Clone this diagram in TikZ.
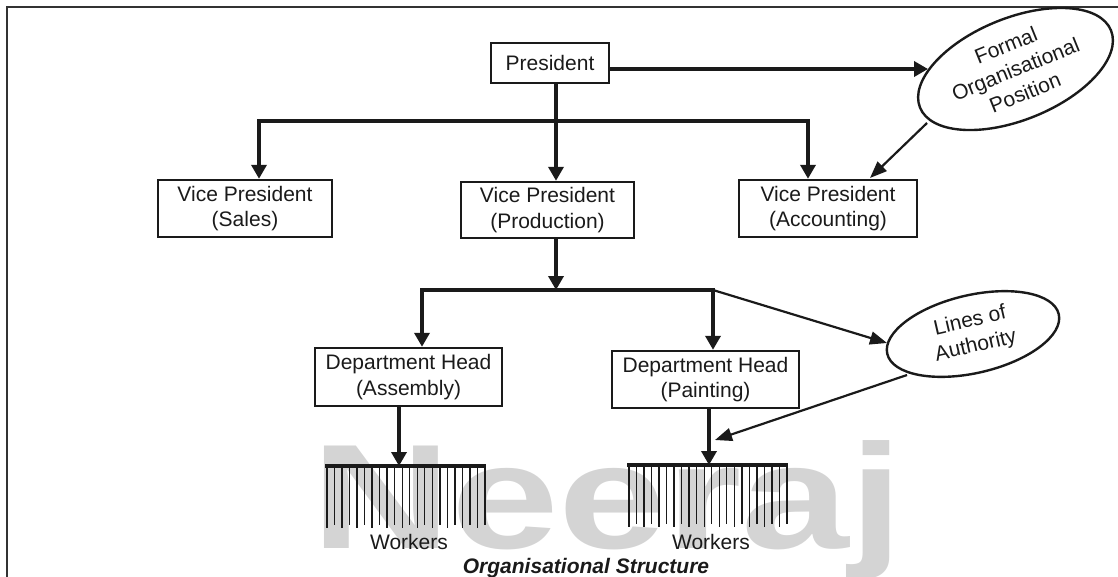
\documentclass[tikz,border=0pt]{standalone}
\usepackage{fontspec}
\setmainfont{Liberation Sans}
\usetikzlibrary{arrows.meta,shapes.geometric}
\definecolor{ink}{HTML}{1A1A1A}
\definecolor{framec}{HTML}{333333}
\definecolor{wm}{HTML}{D4D4D4}
\begin{document}
\begin{tikzpicture}[x=1pt,y=-1pt,
  txt/.style={font=\fontsize{21}{25.5}\selectfont},
  box/.style={draw=ink, line width=2.4pt, text=ink, inner sep=0pt, align=center, txt},
  conn/.style={draw=ink, line width=3.6pt, -{Triangle[length=14pt,width=15pt]}},
  dconn/.style={draw=ink, line width=3.6pt, line join=miter, {Triangle[length=14pt,width=15pt]}-{Triangle[length=14pt,width=15pt]}},
  thinconn/.style={draw=ink, line width=2.2pt, -{Triangle[length=17pt,width=13pt]}},
  oval/.style={ellipse, draw=ink, line width=2.4pt, inner sep=0pt, align=center, text=ink, txt},
  tooth/.style={draw=ink, line width=1.4pt},
  combbar/.style={draw=ink, line width=4pt},
  lbl/.style={text=ink, inner sep=0pt, txt}]
\useasboundingbox (0,0) rectangle (1118,576);
% watermark
\node[anchor=base west, inner sep=0pt, text=wm, font=\fontsize{149}{149}\selectfont\bfseries, xscale=1.3] (wmk) at (311,548) {Neeraj};
% frame
\draw[framec, line width=2.6pt] (7,600) -- (7,7) -- (1130,7);
% boxes
\node[box, minimum width=118pt, minimum height=40pt] (pres) at (550,63) {President};
\node[box, minimum width=174pt, minimum height=57pt] (vps) at (245,208.5) {Vice President\\(Sales)};
\node[box, minimum width=173pt, minimum height=56pt] (vpp) at (547.5,210) {Vice President\\(Production)};
\node[box, minimum width=178pt, minimum height=57pt] (vpa) at (828,208.5) {Vice President\\(Accounting)};
\node[box, minimum width=187pt, minimum height=58pt] (dha) at (408.5,377) {Department Head\\(Assembly)};
\node[box, minimum width=187pt, minimum height=57pt] (dhp) at (705.5,379.5) {Department Head\\(Painting)};
% ellipses
\node[oval, minimum width=206pt, minimum height=102pt, rotate=22] (formal) at (1015.5,69) {Formal\\Organisational\\Position};
\node[oval, minimum width=176pt, minimum height=78pt, rotate=13] (loa) at (973,334) {Lines of\\Authority};
% coordinates
\coordinate (b1L) at (259,121);
\coordinate (b1M) at (556,121);
\coordinate (b1R) at (808,121);
\coordinate (b2L) at (422,290);
\coordinate (b2M) at (556,290);
\coordinate (b2R) at (713,290);
\coordinate (f1) at (927,123);
\coordinate (f2) at (870,178);
\coordinate (la1) at (887,343);
\coordinate (la2) at (907,375);
\coordinate (la3) at (715,440);
\coordinate (cA) at (399,466);
\coordinate (cP) at (709,465);
% connectors top level
\draw[dconn] (vps.north -| b1L) -- (b1L) -- (b1R) -- (vpa.north -| b1R);
\draw[conn] (pres.south -| b1M) -- (vpp.north -| b1M);
\draw[conn] (pres.east |- formal) -- (formal);
\draw[thinconn] (f1) -- (f2);
% second level
\draw[conn] (vpp.south -| b2M) -- (b2M);
\draw[dconn] (dha.north -| b2L) -- (b2L) -- (b2R) -- (dhp.north -| b2R);
\draw[thinconn] (b2R) -- (la1);
\draw[thinconn] (la2) -- (la3);
% to workers
\draw[conn] (dha.south -| cA) -- (cA);
\draw[conn] (dhp.south -| cP) -- (cP);
% combs
\draw[combbar] (325,466) -- (486,466);
\foreach \i in {0,...,21} {
  \pgfmathsetmacro{\xx}{327+\i*7.52}
  \pgfmathsetmacro{\yy}{mod(\i,2)==0 ? 528 : 525}
  \draw[tooth] (\xx,466) -- (\xx,\yy);
}
\draw[combbar] (627,465) -- (788,465);
\foreach \i in {0,...,21} {
  \pgfmathsetmacro{\xx}{629+\i*7.52}
  \pgfmathsetmacro{\yy}{mod(\i,2)==0 ? 527 : 524}
  \draw[tooth] (\xx,465) -- (\xx,\yy);
}
\node[lbl, anchor=base] (wA) at (409,549) {Workers};
\node[lbl, anchor=base] (wP) at (711,549) {Workers};
\node[lbl, anchor=base, font=\fontsize{21}{25}\selectfont\bfseries\itshape] (cap) at (586,573) {Organisational Structure};
\end{tikzpicture}
\end{document}
